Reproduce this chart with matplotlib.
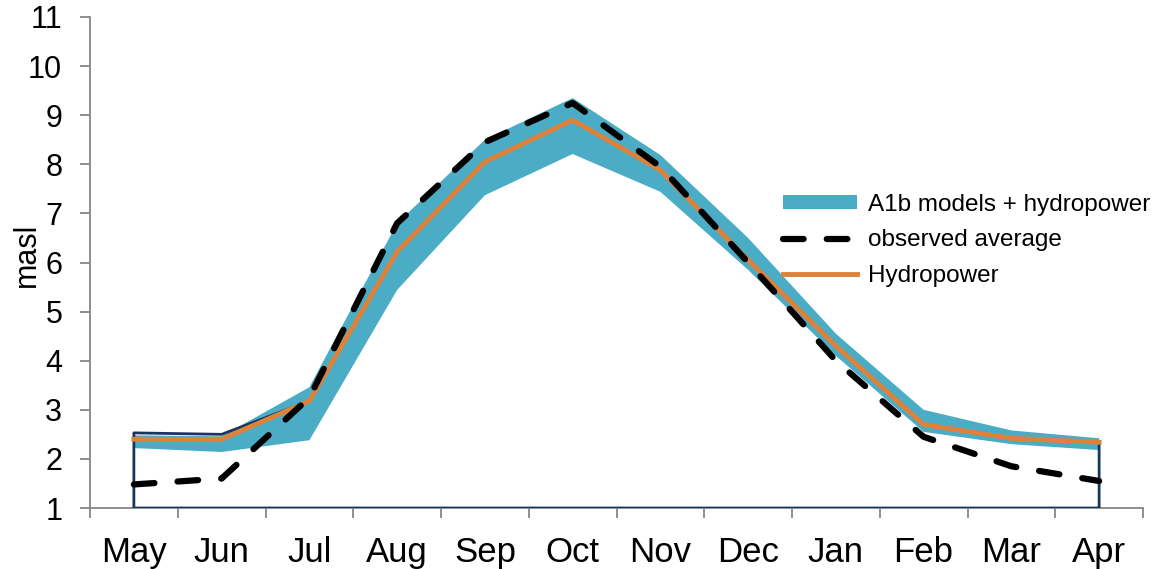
import matplotlib.pyplot as plt
import numpy as np
from matplotlib.ticker import FixedLocator

plt.rcParams['font.family'] = ['Liberation Sans', 'DejaVu Sans']

# Monthly values (masl), hydrological year May-Apr
months = ['May', 'Jun', 'Jul', 'Aug', 'Sep', 'Oct', 'Nov', 'Dec', 'Jan', 'Feb', 'Mar', 'Apr']
band_upper = [2.48, 2.46, 3.46, 6.80, 8.50, 9.35, 8.19, 6.50, 4.55, 3.00, 2.58, 2.42]
band_lower = [2.22, 2.14, 2.38, 5.44, 7.37, 8.21, 7.44, 5.85, 4.10, 2.55, 2.30, 2.18]
hydropower = [2.40, 2.40, 3.18, 6.22, 8.05, 8.90, 7.88, 6.05, 4.30, 2.70, 2.42, 2.34]
observed = [1.48, 1.60, 3.25, 6.80, 8.45, 9.25, 7.95, 6.00, 4.00, 2.45, 1.85, 1.55]
# outline of the underlying (unfilled) area series
outline_top = [2.53, 2.50, 3.18, 6.22, 8.05, 8.90, 7.88, 6.05, 4.30, 2.70, 2.42, 2.34]

TEAL = '#4BACC6'
ORANGE = '#DD823B'
NAVY = '#17365D'
GRAY = '#868686'

fig = plt.figure(figsize=(11.66, 5.69), dpi=100)
ax = fig.add_axes([90 / 1166, 1 - 508 / 569, (1143 - 90) / 1166, (508 - 17) / 569])

x = np.arange(len(months))

# unfilled area with navy border
ax.fill_between(x, 1, outline_top, facecolor='none', edgecolor=NAVY,
                linewidth=2, zorder=3)
ax.fill_between(x, band_lower, band_upper, facecolor=TEAL, edgecolor='none',
                linewidth=0, zorder=2, label='A1b models + hydropower')
ax.plot(x, observed, color='black', linewidth=4.5, linestyle=(0, (3.3, 3.7)),
        dash_capstyle='round', zorder=5, label='observed average')
ax.plot(x, hydropower, color=ORANGE, linewidth=3.5, zorder=4, label='Hydropower')

ax.set_xlim(-0.5, len(months) - 0.5)
ax.set_ylim(1, 11)
ax.set_yticks(range(1, 12))

ax.set_xticks(x)
ax.set_xticklabels(months)
ax.xaxis.set_minor_locator(FixedLocator(np.arange(-0.5, len(months), 1.0)))
ax.tick_params(axis='x', which='major', length=0, pad=20, labelsize=25)
ax.tick_params(axis='x', which='minor', length=7, width=1.3, color=GRAY, direction='out')
ax.tick_params(axis='y', length=7, width=1.3, color=GRAY, direction='out',
               pad=13, labelsize=22)

for side in ['top', 'right']:
    ax.spines[side].set_visible(False)
for side in ['left', 'bottom']:
    ax.spines[side].set_color(GRAY)
    ax.spines[side].set_linewidth(1.3)

ax.set_ylabel('masl', fontsize=22)
ax.yaxis.set_label_coords(-0.046, 0.515)

ax.legend(loc='upper left', bbox_to_anchor=(783 / 1166, 1 - 194 / 569),
          bbox_transform=fig.transFigure, frameon=False, fontsize=17.5,
          handlelength=3.05, handleheight=0.5, handletextpad=0.45,
          labelspacing=0.55, borderpad=0, borderaxespad=0)

fig.savefig('out.png', dpi=100)
